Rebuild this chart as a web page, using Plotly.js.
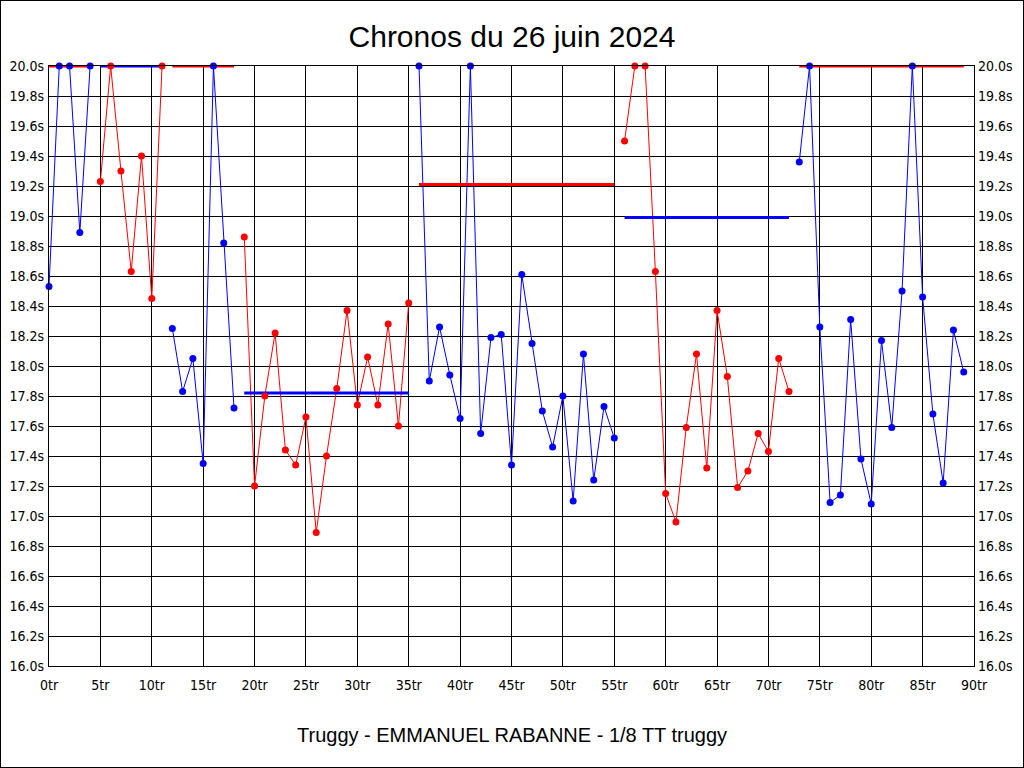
<!DOCTYPE html>
<html><head><meta charset="utf-8">
<script src="https://cdn.plot.ly/plotly-3.0.1.min.js"></script>
<style>
html,body{margin:0;padding:0;background:#fff}
#chart{width:1024px;height:768px}
#frame{position:absolute;left:0;top:0;width:1024px;height:768px;box-sizing:border-box;border:1px solid #000;pointer-events:none}
</style>
</head><body><div id="chart"></div><div id="frame"></div>
<script>
// lap times in seconds, laps 0..89 (values at 20.0 are capped at the top of the scale)
const lapTimes = [
  18.53, 20.00, 20.00, 18.89, 20.00,
  19.23, 20.00, 19.30, 18.63, 19.40, 18.45, 20.00,
  18.25, 17.83, 18.05, 17.35, 20.00, 18.82, 17.72,
  18.86, 17.20, 17.80, 18.22, 17.44, 17.34, 17.66, 16.89, 17.40, 17.85, 18.37, 17.74, 18.06, 17.74, 18.28, 17.60, 18.42,
  20.00, 17.90, 18.26, 17.94, 17.65, 20.00, 17.55, 18.19, 18.21, 17.34, 18.61, 18.15, 17.70, 17.46, 17.80, 17.10, 18.08, 17.24, 17.73, 17.52,
  19.50, 20.00, 20.00, 18.63, 17.15, 16.96, 17.59, 18.08, 17.32, 18.37, 17.93, 17.19, 17.30, 17.55, 17.43, 18.05, 17.83,
  19.36, 20.00, 18.26, 17.09, 17.14, 18.31, 17.38, 17.08, 18.17, 17.59, 18.50, 20.00, 18.46, 17.68, 17.22, 18.24, 17.96
];
// runs (first lap, last lap) and the average line of each run
const segStart = [0, 5, 12, 19, 36, 56, 73];
const segEnd   = [4, 11, 18, 35, 55, 72, 89];
const segAverage = [20.00, 20.00, 20.00, 17.82, 19.21, 18.99, 20.00];

const xTickValues = [0, 5, 10, 15, 20, 25, 30, 35, 40, 45, 50, 55, 60, 65, 70, 75, 80, 85, 90];
const xTickLabels = ['0tr','5tr','10tr','15tr','20tr','25tr','30tr','35tr','40tr','45tr','50tr','55tr','60tr','65tr','70tr','75tr','80tr','85tr','90tr'];
const yTickValues = [16.0,16.2,16.4,16.6,16.8,17.0,17.2,17.4,17.6,17.8,18.0,18.2,18.4,18.6,18.8,19.0,19.2,19.4,19.6,19.8,20.0];
const yTickLabels = ['16.0s','16.2s','16.4s','16.6s','16.8s','17.0s','17.2s','17.4s','17.6s','17.8s','18.0s','18.2s','18.4s','18.6s','18.8s','19.0s','19.2s','19.4s','19.6s','19.8s','20.0s'];

const BLUE = '#0000ff', RED = '#ff0000';
const pointColor = i => (i % 2 === 0 ? BLUE : RED);
const avgColor = i => (i % 2 === 0 ? RED : BLUE);

const lineTraces = [], avgTraces = [], markerTraces = [];
segStart.forEach((s, i) => {
  const e = segEnd[i];
  const xs = [], ys = [];
  for (let k = s; k <= e; k++) { xs.push(k); ys.push(lapTimes[k]); }
  lineTraces.push({x: xs, y: ys, type: 'scatter', mode: 'lines', cliponaxis: false,
    line: {color: pointColor(i), width: 1}, hoverinfo: 'skip', showlegend: false});
  avgTraces.push({x: [s, e], y: [segAverage[i], segAverage[i]], type: 'scatter', mode: 'lines', cliponaxis: false,
    line: {color: avgColor(i), width: 3}, hoverinfo: 'skip', showlegend: false});
  markerTraces.push({x: xs, y: ys, type: 'scatter', mode: 'markers', cliponaxis: false,
    marker: {color: pointColor(i), size: 7, line: {width: 0}}, hoverinfo: 'skip', showlegend: false});
});
const rightAxisTrace = {x: [0], y: [16], yaxis: 'y2', type: 'scatter', mode: 'markers',
  marker: {opacity: 0}, hoverinfo: 'skip', showlegend: false};

const tickFont = {family: '"Liberation Sans Narrow", "DejaVu Sans Condensed", sans-serif', size: 14, color: '#000'};

const layout = {
  width: 1024, height: 768,
  margin: {l: 49, r: 50, t: 66, b: 102, pad: 0},
  paper_bgcolor: '#fff', plot_bgcolor: '#fff',
  showlegend: false, hovermode: false,
  title: {text: 'Chronos du 26 juin 2024', font: {family: '"Liberation Sans", Arial, sans-serif', size: 30, color: '#000'},
    x: 0.5, xanchor: 'center', y: 1 - 36 / 768, yanchor: 'middle', yref: 'container'},
  xaxis: {range: [0, 90], tickvals: xTickValues, ticktext: xTickLabels, tickfont: tickFont, ticklabelstandoff: 6,
    showgrid: true, gridcolor: '#000', gridwidth: 1, zeroline: false,
    showline: true, mirror: true, linecolor: '#000', linewidth: 1, ticks: '', fixedrange: true},
  yaxis: {range: [16, 20], tickvals: yTickValues, ticktext: yTickLabels, tickfont: tickFont, ticklabelstandoff: 1,
    showgrid: true, gridcolor: '#000', gridwidth: 1, zeroline: false,
    showline: true, mirror: true, linecolor: '#000', linewidth: 1, ticks: '', fixedrange: true},
  yaxis2: {range: [16, 20], overlaying: 'y', side: 'right', tickvals: yTickValues, ticktext: yTickLabels, tickfont: tickFont,
    ticklabelstandoff: 3,
    showgrid: false, zeroline: false, showline: false, ticks: '', fixedrange: true},
  annotations: [{text: 'Truggy - EMMANUEL RABANNE - 1/8 TT truggy', xref: 'paper', yref: 'paper',
    x: 0.5, y: (666 - 735) / 600, xanchor: 'center', yanchor: 'middle', showarrow: false,
    font: {family: '"Liberation Sans", Arial, sans-serif', size: 20, color: '#000'}}]
};

Plotly.newPlot('chart', [...lineTraces, ...avgTraces, ...markerTraces, rightAxisTrace], layout, {staticPlot: true, displayModeBar: false});
</script>
</body></html>
